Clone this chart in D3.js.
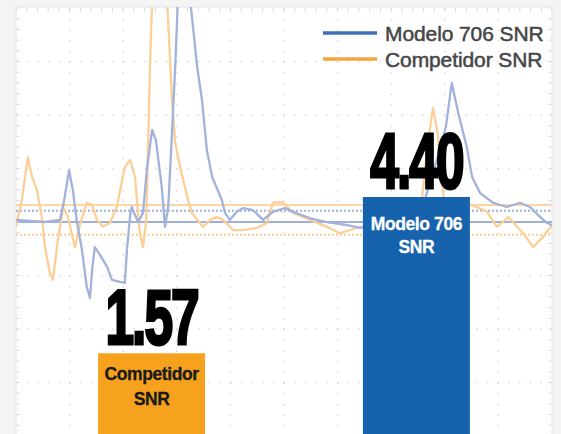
<!DOCTYPE html>
<html>
<head>
<meta charset="utf-8">
<script src="https://cdn.jsdelivr.net/npm/d3@7"></script>
<style>
  html, body { margin: 0; padding: 0; background: #f4f4f4; }
  svg { display: block; }
</style>
</head>
<body>
<script>
(function () {
  // bars
  const barNames = ['Competidor SNR', 'Modelo 706 SNR'];
  const barLines = [['Competidor', 'SNR'], ['Modelo 706', 'SNR']];
  const barValues = [1.57, 4.40];
  const barColors = ['#f6a21e', '#1762ad'];
  const barTextColors = ['#1a1a1a', '#ffffff'];

  // scope traces, in divisions (10 across, -4..4 up)
  const blueT = [0, 0.26, 0.54, 0.82, 0.90, 0.99, 1.06, 1.14, 1.23, 1.32, 1.38, 1.42, 1.47, 1.57, 1.70, 1.79, 1.94, 2.03,
    2.07, 2.13, 2.16, 2.22, 2.28, 2.37, 2.44, 2.54, 2.61, 2.72, 2.78, 2.84, 2.91, 2.97, 3.02, 3.12, 3.25, 3.38, 3.47, 3.56,
    3.66, 3.84, 3.90, 3.99, 4.12, 4.24, 4.42, 4.61, 4.79, 5.02, 5.17, 5.49, 5.80, 6.18, 6.42, 6.79, 7.16, 7.54, 7.91, 8.02,
    8.13, 8.25, 8.41, 8.51, 8.66, 8.90, 9.16, 9.40, 9.59, 9.78, 9.91, 10];
  const blueV = [0.04, 0.02, 0, 0.04, 0.41, 0.97, 0.60, -0.02, -0.52, -1.21, -1.42, -0.90, -0.47, -0.62, -0.84, -1.08, -1.12, -1.14,
    -0.52, 0.13, 0.28, 0.13, 0, 0.17, 0.97, 1.72, 1.53, 0.65, -0.09, 0.28, 1.66, 2.90, 4.15, 4.7, 4.15, 2.90, 2.28, 1.35,
    0.84, 0.41, 0.17, 0.04, 0.19, 0.26, 0.22, 0.04, 0.19, 0.26, 0.19, 0.07, 0, -0.06, -0.11, -0.06, 0, 0.13, 1.35, 1.78,
    2.60, 2.04, 1.40, 0.84, 0.54, 0.36, 0.28, 0.36, 0.28, 0.09, -0.02, -0.06];
  const orangeT = [0, 0.11, 0.22, 0.30, 0.39, 0.49, 0.54, 0.63, 0.69, 0.78, 0.88, 0.97, 1.10, 1.19, 1.32, 1.42, 1.51, 1.62,
    1.75, 1.88, 2.03, 2.13, 2.22, 2.31, 2.37, 2.43, 2.50, 2.54, 2.67, 2.82, 2.91, 2.97, 3.06, 3.21, 3.28, 3.38, 3.49, 3.62,
    3.75, 3.86, 4.05, 4.24, 4.50, 4.68, 4.79, 4.98, 5.17, 5.49, 5.80, 6.04, 6.23, 6.42, 6.98, 7.54, 7.69, 7.78, 7.87, 8.00,
    8.28, 8.51, 8.79, 8.97, 9.19, 9.46, 9.65, 9.83, 10];
  const orangeV = [-0.09, 0.41, 1.21, 0.84, 0.60, 0.04, -0.47, -0.95, -1.08, -0.34, 0.28, 0.09, -0.47, -0.06, 0.36, 0.32, 0.04, -0.09,
    -0.02, 0.28, 1.03, 1.16, 0.84, -0.21, -0.47, 0.04, 2.90, 4.15, 4.9, 4.15, 2.28, 1.48, 1.03, 0.41, 0.17, 0.04, -0.09, 0.04,
    0.09, 0.04, -0.15, -0.15, -0.11, -0.02, 0.36, 0.37, 0.17, 0.04, -0.09, -0.21, -0.15, -0.09, -0.06, 0.13, 1.53, 2.13, 1.63, 0.22,
    0.28, 0.32, 0.19, -0.09, 0.09, -0.21, -0.47, -0.28, -0.06];

  // reference levels, in divisions
  const refLevels = [0.32, 0.21, 0, -0.24];
  const refColors = ['#fbd6a6', '#9fb2dc', '#9eb0d9', '#f9cf98'];
  const refDashed = [false, true, false, true];

  const legendNames = ['Modelo 706 SNR', 'Competidor SNR'];
  const legendColors = ['#3e6fb4', '#f3a53b'];

  const width = 561;
  const height = 434;

  const x = d3.scaleLinear().domain([0, 10]).range([16, 552]);
  const y = d3.scaleLinear().domain([-4, 4]).range([436, 8]);

  const band = d3.scaleBand()
    .domain(barNames)
    .range([x(0), x(10)])
    .paddingInner(0.596)
    .paddingOuter(0.31);

  const yBar = d3.scaleLinear().domain([0, 4.4]).range([440, 197]);

  const svg = d3.select('body').append('svg')
    .attr('width', width)
    .attr('height', height);

  const defs = svg.append('defs');
  defs.append('clipPath')
    .attr('id', 'scope')
    .append('rect')
    .attr('x', x(0))
    .attr('y', y(4) - 1)
    .attr('width', x(10) - x(0))
    .attr('height', height);
  defs.append('filter')
    .attr('id', 'soft')
    .append('feGaussianBlur')
    .attr('stdDeviation', 0.6);

  svg.append('rect')
    .attr('x', x(0))
    .attr('y', y(4) - 1)
    .attr('width', x(10) - x(0))
    .attr('height', height)
    .attr('fill', '#fff')
    .attr('stroke', '#e4e4e4');

  const grid = svg.append('g').attr('clip-path', 'url(#scope)');

  grid.selectAll('line.v')
    .data(d3.range(1, 10))
    .enter()
    .append('line')
    .attr('x1', d => x(d))
    .attr('x2', d => x(d))
    .attr('y1', y(4))
    .attr('y2', height)
    .attr('stroke', '#dadada')
    .attr('stroke-width', 1.5)
    .attr('stroke-dasharray', '1.5 9.2');

  grid.selectAll('line.h')
    .data(d3.range(-3, 4))
    .enter()
    .append('line')
    .attr('x1', x(0))
    .attr('x2', x(10))
    .attr('y1', d => y(d))
    .attr('y2', d => y(d))
    .attr('stroke', '#dadada')
    .attr('stroke-width', 1.5)
    .attr('stroke-dasharray', '1.5 9.2');

  // edge ticks
  const minor = d3.range(0, 10.01, 0.2);
  const minorY = d3.range(-4, 4.01, 0.2);
  grid.selectAll('line.tt')
    .data(minor)
    .enter()
    .append('line')
    .attr('x1', d => x(d))
    .attr('x2', d => x(d))
    .attr('y1', y(4))
    .attr('y2', y(4) + 4)
    .attr('stroke', '#dcdcdc');
  grid.selectAll('line.tl')
    .data(minorY)
    .enter()
    .append('line')
    .attr('x1', x(0))
    .attr('x2', x(0) + 4)
    .attr('y1', d => y(d))
    .attr('y2', d => y(d))
    .attr('stroke', '#dcdcdc');
  grid.selectAll('line.tr')
    .data(minorY)
    .enter()
    .append('line')
    .attr('x1', x(10) - 4)
    .attr('x2', x(10))
    .attr('y1', d => y(d))
    .attr('y2', d => y(d))
    .attr('stroke', '#dcdcdc');

  grid.selectAll('line.ref')
    .data(refLevels)
    .enter()
    .append('line')
    .attr('x1', x(0))
    .attr('x2', x(10))
    .attr('y1', d => y(d))
    .attr('y2', d => y(d))
    .attr('stroke', (d, i) => refColors[i])
    .attr('stroke-width', 2)
    .attr('stroke-dasharray', (d, i) => refDashed[i] ? '2 2' : null);

  const line = d3.line()
    .x(d => x(d[0]))
    .y(d => y(d[1]));

  grid.append('path')
    .attr('d', line(d3.zip(orangeT, orangeV)))
    .attr('fill', 'none')
    .attr('stroke', '#fbcf96')
    .attr('stroke-width', 2.3)
    .attr('stroke-linejoin', 'round')
    .attr('filter', 'url(#soft)');

  grid.append('path')
    .attr('d', line(d3.zip(blueT, blueV)))
    .attr('fill', 'none')
    .attr('stroke', '#a2b2dc')
    .attr('stroke-width', 2.3)
    .attr('stroke-linejoin', 'round')
    .attr('filter', 'url(#soft)');

  // bars
  const bars = svg.selectAll('g.bar')
    .data(barNames)
    .enter()
    .append('g')
    .attr('class', 'bar');

  bars.append('rect')
    .attr('x', d => band(d))
    .attr('y', (d, i) => yBar(barValues[i]))
    .attr('width', band.bandwidth())
    .attr('height', (d, i) => yBar(0) - yBar(barValues[i]))
    .attr('fill', (d, i) => barColors[i]);

  bars.append('text')
    .attr('transform', (d, i) => 'translate(' + (band(d) + band.bandwidth() / 2) + ',' + (yBar(barValues[i]) - 9) + ') scale(0.66,1)')
    .attr('text-anchor', 'middle')
    .attr('font-family', 'Liberation Sans, Arial, sans-serif')
    .attr('font-weight', 'bold')
    .attr('font-size', 78)
    .attr('letter-spacing', -3)
    .attr('fill', '#000')
    .attr('stroke', '#000')
    .attr('stroke-width', 3)
    .text((d, i) => barValues[i].toFixed(2));

  bars.each(function (d, i) {
    const g = d3.select(this);
    const offsets = i === 0 ? [27, 52] : [33, 56];
    g.selectAll('text.lab')
      .data(barLines[i])
      .enter()
      .append('text')
      .attr('x', band(d) + band.bandwidth() / 2)
      .attr('y', (t, j) => yBar(barValues[i]) + offsets[j])
      .attr('text-anchor', 'middle')
      .attr('font-family', 'Liberation Sans, Arial, sans-serif')
      .attr('font-weight', 'bold')
      .attr('font-size', 17.5)
      .attr('letter-spacing', -0.4)
      .attr('fill', barTextColors[i])
      .attr('stroke', barTextColors[i])
      .attr('stroke-width', 0.3)
      .text(t => t);
  });

  // legend
  const legend = svg.selectAll('g.legend')
    .data(legendNames)
    .enter()
    .append('g')
    .attr('class', 'legend')
    .attr('transform', (d, i) => 'translate(323,' + (33 + i * 26) + ')');

  legend.append('line')
    .attr('x1', 0)
    .attr('x2', 54)
    .attr('stroke', (d, i) => legendColors[i])
    .attr('stroke-width', 3.5);

  legend.append('text')
    .attr('x', 62)
    .attr('y', 7.5)
    .attr('font-family', 'Liberation Sans, Arial, sans-serif')
    .attr('font-size', 21)
    .attr('letter-spacing', -0.1)
    .attr('fill', '#454545')
    .attr('stroke', '#454545')
    .attr('stroke-width', 0.5)
    .text(d => d);
})();
</script>
</body>
</html>
